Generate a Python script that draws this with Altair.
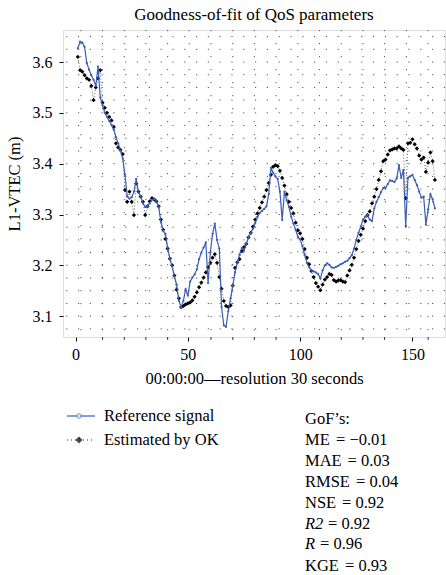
import altair as alt
import pandas as pd

idx = list(range(1, 161))
ref = [3.627, 3.640, 3.638, 3.630, 3.598, 3.585, 3.574, 3.565, 3.553, 3.591,
       3.530, 3.515, 3.500, 3.492, 3.484, 3.476, 3.467, 3.452, 3.440, 3.425,
       3.410, 3.378, 3.336, 3.331, 3.334, 3.345, 3.370, 3.343, 3.335, 3.322,
       3.315, 3.316, 3.322, 3.329, 3.331, 3.327, 3.315, 3.285, 3.268, 3.262,
       3.235, 3.212, 3.198, 3.178, 3.162, 3.130, 3.118, 3.130, 3.153, 3.141,
       3.168, 3.176, 3.182, 3.192, 3.212, 3.225, 3.235, 3.245, 3.165, 3.225,
       3.262, 3.282, 3.250, 3.233, 3.118, 3.082, 3.079, 3.110, 3.135, 3.160,
       3.186, 3.205, 3.221, 3.234, 3.229, 3.242, 3.255, 3.264, 3.272, 3.283,
       3.295, 3.303, 3.307, 3.311, 3.316, 3.340, 3.392, 3.382, 3.375, 3.370,
       3.345, 3.289, 3.345, 3.328, 3.315, 3.296, 3.282, 3.270, 3.256, 3.251,
       3.238, 3.220, 3.205, 3.196, 3.190, 3.188, 3.186, 3.183, 3.174, 3.190,
       3.200, 3.204, 3.201, 3.196, 3.195, 3.197, 3.199, 3.202, 3.204, 3.207,
       3.209, 3.214, 3.220, 3.233, 3.250, 3.264, 3.276, 3.290, 3.296, 3.299,
       3.290, 3.287, 3.312, 3.325, 3.334, 3.344, 3.352, 3.352, 3.360, 3.367,
       3.366, 3.364, 3.371, 3.397, 3.372, 3.388, 3.276, 3.372, 3.375, 3.378,
       3.368, 3.358, 3.345, 3.333, 3.335, 3.280, 3.310, 3.340, 3.330, 3.312]
est = [3.610, 3.584, 3.581, 3.574, 3.568, 3.565, 3.553, 3.525, 3.550, 3.568,
       3.584, 3.520, 3.510, 3.500, 3.492, 3.485, 3.472, 3.440, 3.432, 3.427,
       3.419, 3.348, 3.325, 3.345, 3.325, 3.299, 3.361, 3.345, 3.335, 3.325,
       3.299, 3.316, 3.326, 3.332, 3.330, 3.326, 3.316, 3.290, 3.270, 3.252,
       3.233, 3.213, 3.200, 3.180, 3.152, 3.135, 3.118, 3.120, 3.123, 3.125,
       3.127, 3.131, 3.138, 3.147, 3.157, 3.166, 3.176, 3.186, 3.196, 3.205,
       3.215, 3.222, 3.205, 3.177, 3.154, 3.130, 3.120, 3.118, 3.121, 3.160,
       3.195, 3.206, 3.212, 3.228, 3.236, 3.242, 3.255, 3.264, 3.276, 3.290,
       3.302, 3.313, 3.324, 3.335, 3.348, 3.362, 3.378, 3.394, 3.397, 3.395,
       3.386, 3.372, 3.357, 3.340, 3.325, 3.313, 3.302, 3.284, 3.269, 3.263,
       3.252, 3.232, 3.215, 3.202, 3.189, 3.177, 3.165, 3.158, 3.151, 3.162,
       3.172, 3.177, 3.183, 3.181, 3.171, 3.168, 3.170, 3.171, 3.168, 3.167,
       3.180, 3.190, 3.201, 3.215, 3.232, 3.248, 3.260, 3.272, 3.287, 3.299,
       3.306, 3.322, 3.335, 3.350, 3.368, 3.385, 3.405, 3.408, 3.418, 3.426,
       3.428, 3.430, 3.430, 3.434, 3.430, 3.427, 3.332, 3.440, 3.441, 3.448,
       3.438, 3.430, 3.416, 3.408, 3.412, 3.384, 3.402, 3.422, 3.405, 3.368]

x_ticks = [0, 50, 100, 150]
y_ticks = [3.1, 3.2, 3.3, 3.4, 3.5, 3.6]
h_grid = [3.075, 3.1, 3.125, 3.15, 3.175, 3.2, 3.225, 3.25, 3.275, 3.3, 3.325,
          3.35, 3.375, 3.4, 3.425, 3.45, 3.475, 3.5, 3.525, 3.55, 3.575, 3.6,
          3.625, 3.65]
v_grid = [2.4, 12.0, 21.7, 31.3, 41.0, 50.6, 60.3, 70.0, 79.6, 89.3, 99.0,
          108.6, 118.3, 128.0, 137.6, 147.3, 157.0]
minor_ticks = [12.0, 21.7, 31.3, 41.0, 60.3, 70.0, 79.6, 89.3, 108.6, 118.3,
               128.0, 137.6, 157.0]

legend_labels = ["Reference signal", "Estimated by OK"]
gof_head = "GoF\u2019s:"
gof_names = ["ME", "MAE", "RMSE", "NSE", "R2", "R", "KGE"]
gof_values = ["= \u22120.01", "= 0.03", "= 0.04", "= 0.92", "= 0.92", "= 0.96", "= 0.93"]
gof_italic = [False, False, False, False, True, True, False]

FONT = "Liberation Serif"
BLUE = "#3a5db2"
W, H = 382, 307
X0, Y0 = 63, 30

df = pd.DataFrame({"i": idx, "ref": ref, "est": est})
xs = alt.Scale(domain=[-5.6, 164.5], nice=False, zero=False)
ys = alt.Scale(domain=[3.059, 3.663], nice=False, zero=False)

xax = alt.Axis(values=x_ticks, title="00:00:00\u2014resolution 30 seconds", grid=False,
               tickSize=4, labelPadding=5, titlePadding=8, domain=False,
               labelFont=FONT, labelFontSize=16, titleFont=FONT, titleFontSize=16.5,
               titleFontWeight="normal", labelColor="#000", titleColor="#000",
               tickColor="#000")
yax = alt.Axis(values=y_ticks, format=".1f", title="L1-VTEC (m)", grid=False,
               tickSize=4, labelPadding=7, titlePadding=10, domain=False,
               labelFont=FONT, labelFontSize=16, titleFont=FONT, titleFontSize=16.5,
               titleFontWeight="normal", labelColor="#000", titleColor="#000",
               tickColor="#000")

hg = alt.Chart(pd.DataFrame({"v": h_grid})).mark_rule(
    color="#555", strokeWidth=1, strokeDash=[1.2, 10.6]
).encode(y=alt.Y("v:Q", scale=ys, axis=yax))

vg = alt.Chart(pd.DataFrame({"v": v_grid})).mark_rule(
    color="#555", strokeWidth=1, strokeDash=[1.2, 11.8]
).encode(x=alt.X("v:Q", scale=xs, axis=xax))

mt = alt.Chart(pd.DataFrame({"v": minor_ticks})).mark_rule(
    color="#000", strokeWidth=0.8
).encode(x=alt.X("v:Q", scale=xs, axis=xax), y=alt.value(H), y2=alt.value(H + 3))

est_line = alt.Chart(df).mark_line(color="#666", strokeWidth=1, strokeDash=[1, 2]).encode(
    x=alt.X("i:Q", scale=xs, axis=xax), y=alt.Y("est:Q", scale=ys, axis=yax))
est_pts = alt.Chart(df).mark_point(shape="diamond", filled=True, color="#000", size=18,
                                   opacity=1).encode(
    x=alt.X("i:Q", scale=xs, axis=xax), y=alt.Y("est:Q", scale=ys, axis=yax))
ref_line = alt.Chart(df).mark_line(color=BLUE, strokeWidth=1.2).encode(
    x=alt.X("i:Q", scale=xs, axis=xax), y=alt.Y("ref:Q", scale=ys, axis=yax))
ref_pts = alt.Chart(df).mark_point(shape="circle", filled=True, color=BLUE, size=5,
                                   opacity=1).encode(
    x=alt.X("i:Q", scale=xs, axis=xax), y=alt.Y("ref:Q", scale=ys, axis=yax))

# legend (drawn below the plot)
ly1, ly2 = 416 - Y0, 440 - Y0
one = pd.DataFrame({"a": [0]})
leg_rule1 = alt.Chart(one).mark_rule(color=BLUE, strokeWidth=1.2).encode(
    x=alt.value(67 - X0), x2=alt.value(95 - X0), y=alt.value(ly1))
leg_pt1 = alt.Chart(one).mark_point(shape="circle", filled=True, fill="white",
                                    stroke=BLUE, size=20, strokeWidth=1).encode(
    x=alt.value(79 - X0), y=alt.value(ly1))
leg_rule2 = alt.Chart(one).mark_rule(color="#333", strokeWidth=1,
                                     strokeDash=[1, 3]).encode(
    x=alt.value(67 - X0), x2=alt.value(95 - X0), y=alt.value(ly2))
leg_pt2 = alt.Chart(one).mark_point(shape="diamond", filled=False,
                                    color="#000", size=30, strokeWidth=1.2).encode(
    x=alt.value(79 - X0), y=alt.value(ly2))
leg_pt2b = alt.Chart(one).mark_point(shape="cross", filled=True,
                                     color="#000", size=14).encode(
    x=alt.value(79 - X0), y=alt.value(ly2))
leg_txt1 = alt.Chart(pd.DataFrame({"t": [legend_labels[0]]})).mark_text(
    font=FONT, fontSize=16.5, align="left", baseline="middle", color="#000").encode(
    text="t:N", x=alt.value(104 - X0), y=alt.value(ly1))
leg_txt2 = alt.Chart(pd.DataFrame({"t": [legend_labels[1]]})).mark_text(
    font=FONT, fontSize=16.5, align="left", baseline="middle", color="#000").encode(
    text="t:N", x=alt.value(104 - X0), y=alt.value(ly2))

gx = 305 - X0
gys = [419, 440, 461, 482, 503, 524, 544, 566]
eq_x = [336.0, 347.5, 356.0, 342.0, 328.0, 320.0, 345.0]
layers = [hg, vg, mt, est_line, est_pts, ref_line, ref_pts,
          leg_rule1, leg_pt1, leg_rule2, leg_pt2, leg_pt2b, leg_txt1, leg_txt2]
layers.append(alt.Chart(pd.DataFrame({"t": [gof_head]})).mark_text(
    font=FONT, fontSize=16.5, align="left", baseline="middle", color="#000").encode(
    text="t:N", x=alt.value(gx), y=alt.value(gys[0] - Y0)))
for k, (nm, val) in enumerate(zip(gof_names, gof_values)):
    yy = gys[k + 1] - Y0
    layers.append(alt.Chart(pd.DataFrame({"t": [nm]})).mark_text(
        font=FONT, fontSize=16.5, fontStyle="italic" if gof_italic[k] else "normal",
        align="left", baseline="middle", color="#000").encode(
        text="t:N", x=alt.value(gx), y=alt.value(yy)))
    layers.append(alt.Chart(pd.DataFrame({"t": [val]})).mark_text(
        font=FONT, fontSize=16.5, align="left", baseline="middle", color="#000").encode(
        text="t:N", x=alt.value(eq_x[k] - X0), y=alt.value(yy)))

chart = alt.layer(*layers).properties(
    width=W, height=H,
    title=alt.TitleParams("Goodness-of-fit of QoS parameters", font=FONT, fontSize=17,
                          fontWeight="normal", color="#000", anchor="middle", offset=6),
    padding={"left": X0, "top": Y0, "right": 446 - X0 - W, "bottom": 575 - Y0 - H},
    autosize=alt.AutoSizeParams(type="none"),
).configure_view(stroke="#000", strokeWidth=1.3).configure(background="white")

chart.save("out.html", embed_options={"renderer": "svg", "actions": False})
